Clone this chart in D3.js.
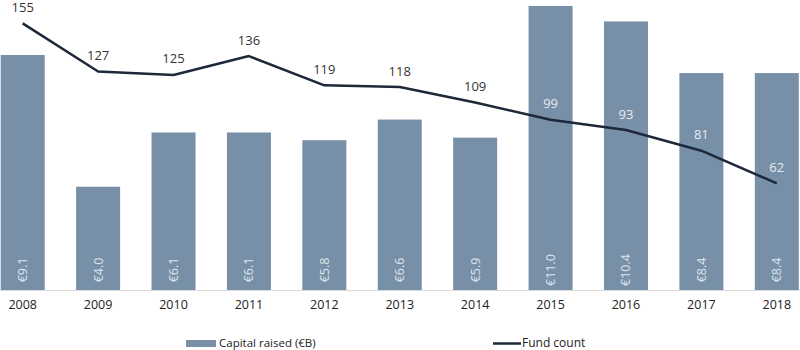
<!DOCTYPE html>
<html>
<head>
<meta charset="utf-8">
<script src="https://cdn.jsdelivr.net/npm/d3@7"></script>
<style>
  html, body { margin: 0; padding: 0; background: #fff; }
  svg { display: block; }
  text { font-family: "Open Sans", "Noto Sans", sans-serif; }
</style>
</head>
<body>
<div id="chart"></div>
<script>
const years = ["2008","2009","2010","2011","2012","2013","2014","2015","2016","2017","2018"];
const capitalRaised = [9.1, 4.0, 6.1, 6.1, 5.8, 6.6, 5.9, 11.0, 10.4, 8.4, 8.4];
const capitalLabels = ["€9.1","€4.0","€6.1","€6.1","€5.8","€6.6","€5.9","€11.0","€10.4","€8.4","€8.4"];
const fundCount = [155, 127, 125, 136, 119, 118, 109, 99, 93, 81, 62];
const legendLabels = ["Capital raised (€B)", "Fund count"];

const W = 800, H = 350;
const baseY = 290;
const barColor = "#788fa8";
const lineColor = "#1d2838";

const svg = d3.select("#chart").append("svg").attr("width", W).attr("height", H);

const x = d3.scaleBand().domain(years).range([-15, 814.5]).paddingInner(0.4165).paddingOuter(0.20825);
const yBar = d3.scaleLinear().domain([0, 11.23]).range([baseY, 0]);
const yLine = d3.scaleLinear().domain([0, 168.6]).range([baseY, 0]);

// bars
svg.append("g").selectAll("rect").data(years).join("rect")
  .attr("x", d => x(d))
  .attr("y", (d, i) => yBar(capitalRaised[i]))
  .attr("width", x.bandwidth())
  .attr("height", (d, i) => baseY - yBar(capitalRaised[i]))
  .attr("fill", barColor);

// bar labels (rotated)
svg.append("g").selectAll("text").data(years).join("text")
  .attr("transform", d => `translate(${x(d) + x.bandwidth() / 2},270) rotate(-90)`)
  .attr("text-anchor", "middle")
  .attr("dominant-baseline", "central")
  .attr("font-size", 12.5)
  .attr("fill", "#dfe5ec")
  .text((d, i) => capitalLabels[i]);

// x axis
const xAxis = d3.axisBottom(x).tickSize(0).tickPadding(10);
const gx = svg.append("g").attr("transform", `translate(0,${baseY})`).call(xAxis);
gx.select(".domain").remove();
gx.selectAll("text").attr("font-size", 12.5).attr("fill", "#222").attr("font-family", "'Open Sans', sans-serif");
svg.append("line").attr("x1", 0).attr("x2", W).attr("y1", baseY + 0.5).attr("y2", baseY + 0.5)
  .attr("stroke", "#d9d9d9").attr("stroke-width", 1);

// line
const line = d3.line()
  .x((d, i) => x(years[i]) + x.bandwidth() / 2)
  .y(d => yLine(d));
svg.append("path").datum(fundCount)
  .attr("d", line)
  .attr("fill", "none")
  .attr("stroke", lineColor)
  .attr("stroke-width", 2.5)
  .attr("stroke-linejoin", "round");

// line labels
const lblOff = 16.5;
svg.append("g").selectAll("text").data(fundCount).join("text")
  .attr("x", (d, i) => x(years[i]) + x.bandwidth() / 2)
  .attr("y", d => yLine(d) - lblOff)
  .attr("text-anchor", "middle")
  .attr("dominant-baseline", "central")
  .attr("font-size", 13)
  .attr("fill", (d, i) => (yLine(d) - lblOff > yBar(capitalRaised[i]) + 5) ? "#e6ebf0" : "#333")
  .text(d => d);

// legend
const lg = svg.append("g");
lg.append("rect").attr("x", 186).attr("y", 340).attr("width", 30).attr("height", 7).attr("fill", barColor);
lg.append("text").attr("x", 219).attr("y", 342).attr("dominant-baseline", "central")
  .attr("font-size", 11.5).attr("fill", "#222").text(legendLabels[0]);
lg.append("line").attr("x1", 493).attr("x2", 521).attr("y1", 343.5).attr("y2", 343.5)
  .attr("stroke", lineColor).attr("stroke-width", 2.5);
lg.append("text").attr("x", 522).attr("y", 342).attr("dominant-baseline", "central")
  .attr("font-size", 12).attr("fill", "#222").text(legendLabels[1]);
</script>
</body>
</html>
